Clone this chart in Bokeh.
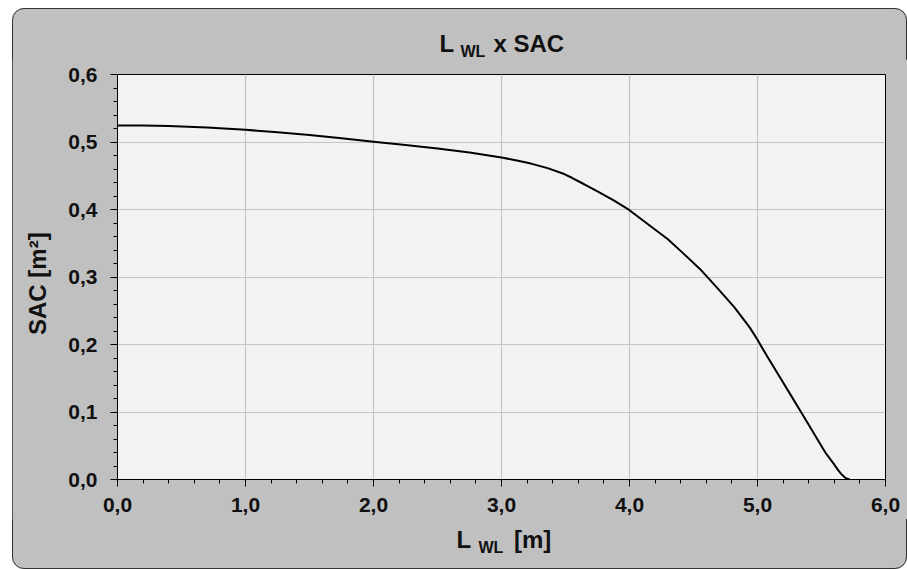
from bokeh.plotting import figure
from bokeh.layouts import column
from bokeh.models import Range1d, FixedTicker, CustomJSTickFormatter, Div
from bokeh.embed import file_html
from bokeh.resources import INLINE

# ---- data ----
lwl = [0.0, 0.2, 0.4, 0.7, 1.0, 1.25, 1.5, 1.75, 2.0, 2.25, 2.5, 2.75, 3.0,
       3.12, 3.23, 3.36, 3.49, 3.55, 3.62, 3.68, 3.75, 3.88, 4.0, 4.16, 4.3,
       4.42, 4.55, 4.68, 4.82, 4.94, 5.0, 5.08, 5.18, 5.26, 5.34, 5.4, 5.47,
       5.53, 5.6, 5.63, 5.66, 5.69, 5.72]
sac = [0.5245, 0.5243, 0.5236, 0.5215, 0.518, 0.5145, 0.5105, 0.5055, 0.5005,
       0.4955, 0.4905, 0.4845, 0.477, 0.4727, 0.468, 0.4613, 0.4525, 0.447,
       0.440, 0.434, 0.427, 0.413, 0.399, 0.376, 0.356, 0.335, 0.312, 0.285,
       0.255, 0.225, 0.207, 0.181, 0.150, 0.125, 0.100, 0.081, 0.059, 0.040,
       0.022, 0.014, 0.007, 0.002, 0.0]

x_ticks = [0.0, 1.0, 2.0, 3.0, 4.0, 5.0, 6.0]
x_minor = [round(i * 0.2, 2) for i in range(31)]
y_ticks = [0.0, 0.1, 0.2, 0.3, 0.4, 0.5, 0.6]
y_minor = [round(i * 0.02, 3) for i in range(31)]

BG = "#c0c0c0"
FONT = "Liberation Sans"
TXT = "#111111"
W = 895
TOP_H, FIG_H, BOT_H = 51, 460, 50

p = figure(width=W, height=FIG_H, output_backend="svg", toolbar_location=None,
           x_range=Range1d(0, 6), y_range=Range1d(0, 0.6),
           min_border_left=105, min_border_right=22, min_border_top=15,
           min_border_bottom=40)

p.background_fill_color = "#f2f2f2"
p.border_fill_color = BG
p.outline_line_color = "#000000"
p.outline_line_width = 1

fmt = CustomJSTickFormatter(code="return tick.toFixed(1).replace('.', ',');")

p.xaxis.ticker = FixedTicker(ticks=x_ticks, minor_ticks=x_minor)
p.yaxis.ticker = FixedTicker(ticks=y_ticks, minor_ticks=y_minor)
for ax in (p.xaxis, p.yaxis):
    ax.formatter = fmt
    ax.axis_line_color = "#000000"
    ax.axis_line_width = 1
    ax.major_tick_line_color = "#000000"
    ax.minor_tick_line_color = "#000000"
    ax.major_tick_in = 0
    ax.minor_tick_in = 0
    ax.major_tick_out = 7
    ax.minor_tick_out = 4
    ax.major_label_text_font = FONT
    ax.major_label_text_font_style = "bold"
    ax.major_label_text_font_size = "21px"
    ax.major_label_text_color = TXT
p.xaxis.major_label_standoff = 11
p.yaxis.major_label_standoff = 13

p.yaxis.axis_label = "SAC [m²]\u00a0\u00a0"
p.yaxis.axis_label_text_font = FONT
p.yaxis.axis_label_text_font_style = "bold"
p.yaxis.axis_label_text_font_size = "24px"
p.yaxis.axis_label_text_color = TXT
p.yaxis.axis_label_standoff = 14

p.xgrid.ticker = FixedTicker(ticks=x_ticks)
p.ygrid.ticker = FixedTicker(ticks=y_ticks)
p.grid.grid_line_color = "#c4c4c4"
p.grid.grid_line_width = 1.2

p.line(lwl, sac, line_color="#000000", line_width=2, line_join="round")


# texts with subscripts (title and x-axis title) as HTML
def piece(text, left, baseline, size):
    # top of a line box with line-height 1 for Liberation Sans
    top = baseline - (size * 0.905 - (size * 1.117 - size) / 2)
    return (f'<span style="position:absolute;left:{left}px;top:{top:.1f}px;'
            f'font-family:\'{FONT}\';font-weight:bold;font-size:{size}px;'
            f'line-height:1;white-space:nowrap;color:{TXT}">{text}</span>')

def box(h, parts):
    return (f'<div style="position:relative;width:{W}px;height:{h}px;'
            f'margin:0;padding:0;overflow:hidden">' + "".join(parts) + "</div>")

title_html = box(TOP_H, [piece("L", 427.5, 44.3, 24),
                         piece("WL", 448.5, 49.3, 16),
                         piece("x SAC", 481.5, 44.3, 24)])
xlabel_html = box(BOT_H, [piece("L", 444.5, 29, 24),
                          piece("WL", 466.5, 34, 16),
                          piece("[m]", 502, 29, 24)])

NOPAD = {"padding": "0px", "margin": "0px"}
div_top = Div(text=title_html, width=W, height=TOP_H, styles=NOPAD)
div_bot = Div(text=xlabel_html, width=W, height=BOT_H, styles=NOPAD)

layout = column(div_top, p, div_bot, spacing=0)
layout.styles = {"margin-left": "12px", "margin-top": "8px",
                 "background-color": BG, "border-radius": "12px",
                 "overflow": "hidden", "outline": "1.5px solid #333333",
                 "outline-offset": "-1.5px"}

open("out.html", "w").write(file_html(layout, INLINE))
